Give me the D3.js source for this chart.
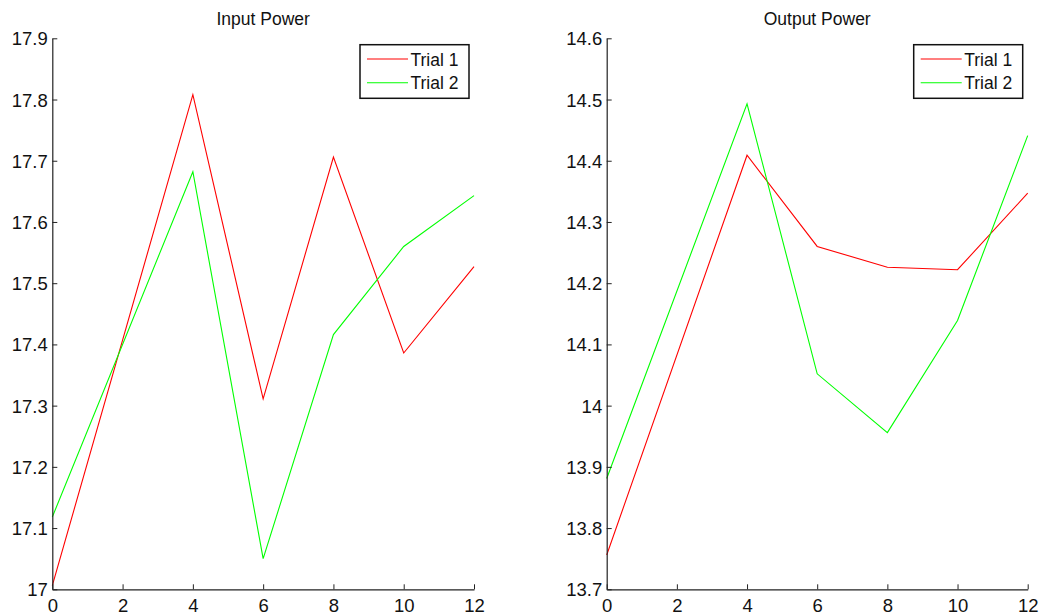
<!DOCTYPE html>
<html><head><meta charset="utf-8">
<script src="https://cdn.jsdelivr.net/npm/d3@7"></script>
<style>
body{margin:0;background:#fff;}
svg{display:block;font-family:"Liberation Sans",Arial,sans-serif;}
</style></head>
<body><svg id="c" width="1040" height="614"></svg>
<script>
const xValues = [0, 4, 6, 8, 10, 12];
const xTicks = [0, 2, 4, 6, 8, 10, 12];
const seriesNames = ["Trial 1", "Trial 2"];
const seriesColors = ["#ff0000", "#00ff00"];

const inputTitle = "Input Power";
const inputTrial1 = [17.006, 17.808, 17.311, 17.706, 17.386, 17.527];
const inputTrial2 = [17.118, 17.682, 17.050, 17.416, 17.560, 17.643];
const inputYTicks = [17.0, 17.1, 17.2, 17.3, 17.4, 17.5, 17.6, 17.7, 17.8, 17.9];
const inputYTickLabels = ["17", "17.1", "17.2", "17.3", "17.4", "17.5", "17.6", "17.7", "17.8", "17.9"];

const outputTitle = "Output Power";
const outputTrial1 = [13.756, 14.409, 14.260, 14.226, 14.222, 14.347];
const outputTrial2 = [13.881, 14.493, 14.052, 13.956, 14.139, 14.441];
const outputYTicks = [13.7, 13.8, 13.9, 14.0, 14.1, 14.2, 14.3, 14.4, 14.5, 14.6];
const outputYTickLabels = ["13.7", "13.8", "13.9", "14", "14.1", "14.2", "14.3", "14.4", "14.5", "14.6"];

const svg = d3.select("#c");
const plotTop = 38.3, plotBottom = 589.3;

function panel(left, right, title, s1, s2, yTicks, yLabels) {
  const g = svg.append("g");
  const x = d3.scaleLinear().domain([0, 12]).range([left, right]);
  const y = d3.scaleLinear().domain([yTicks[0], yTicks[yTicks.length - 1]]).range([plotBottom, plotTop]);

  const series = [s1, s2];
  const line = d3.line().x((d, i) => x(xValues[i])).y(d => y(d));
  series.forEach((s, k) => {
    g.append("path").datum(s).attr("d", line)
      .attr("fill", "none").attr("stroke", seriesColors[k]).attr("stroke-width", 1.1);
  });

  // x axis
  const xa = g.append("g").attr("transform", `translate(0,${plotBottom})`)
    .call(d3.axisBottom(x).tickValues(xTicks).tickSizeInner(-5).tickSizeOuter(0).tickPadding(0).tickFormat(d3.format("d")));
  xa.select(".domain").attr("stroke", "#222").attr("stroke-width", 1.2);
  xa.selectAll(".tick line").attr("stroke", "#222");
  xa.selectAll(".tick text").attr("font-size", 18.5).attr("fill", "#111").attr("dy", null).attr("y", 22.5);

  // y axis
  const ya = g.append("g").attr("transform", `translate(${left},0)`)
    .call(d3.axisLeft(y).tickValues(yTicks).tickSizeInner(-5).tickSizeOuter(0).tickPadding(0)
      .tickFormat((d, i) => yLabels[i]));
  ya.select(".domain").attr("stroke", "#222").attr("stroke-width", 1.2);
  ya.selectAll(".tick line").attr("stroke", "#222");
  ya.selectAll(".tick text").attr("font-size", 18.5).attr("fill", "#111").attr("x", -4.5).attr("dy", "0.35em");

  // title
  g.append("text").attr("x", (left + right) / 2).attr("y", 25).attr("text-anchor", "middle")
    .attr("font-size", 17.5).attr("fill", "#111").text(title);

  // legend
  const lx = right - 114, ly = 44.7, lw = 109, lh = 53.6;
  const lg = g.append("g");
  lg.append("rect").attr("x", lx).attr("y", ly).attr("width", lw).attr("height", lh)
    .attr("fill", "#fff").attr("stroke", "#111").attr("stroke-width", 1.5);
  seriesNames.forEach((n, k) => {
    const yy = ly + 14.3 + k * 23.7;
    lg.append("line").attr("x1", lx + 7).attr("x2", lx + 48).attr("y1", yy).attr("y2", yy)
      .attr("stroke", seriesColors[k]).attr("stroke-width", 1.1);
    lg.append("text").attr("x", lx + 50.5).attr("y", yy + 6.5).attr("font-size", 17.5)
      .attr("fill", "#111").text(n);
  });
}

panel(52.3, 474, inputTitle, inputTrial1, inputTrial2, inputYTicks, inputYTickLabels);
panel(606.7, 1027.7, outputTitle, outputTrial1, outputTrial2, outputYTicks, outputYTickLabels);
</script>
</body></html>
